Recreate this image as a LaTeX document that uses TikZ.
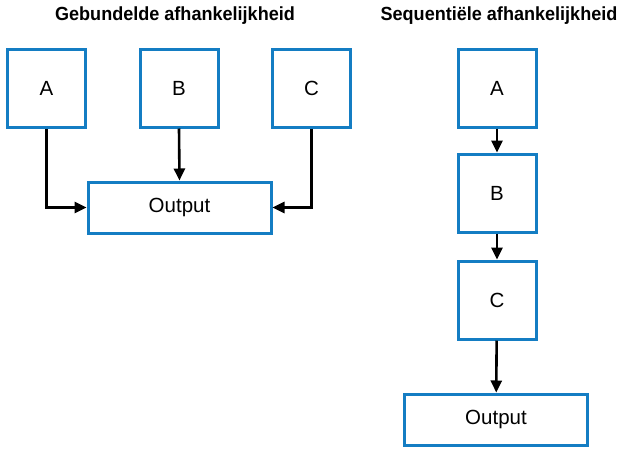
\documentclass[tikz,border=0pt]{standalone}
\usepackage{fontspec}
\setmainfont{Liberation Sans}
\newfontfamily\titlefont{Liberation Sans}[FakeStretch=0.95]
\usetikzlibrary{arrows.meta}
\definecolor{boxblue}{RGB}{20,125,195}
\begin{document}
\begin{tikzpicture}[x=1pt,y=-1pt,
  box/.style={draw=boxblue,line width=3pt,fill=white,inner sep=0pt,font=\fontsize{20.5}{22}\selectfont},
  sq/.style={box,minimum width=78pt,minimum height=78pt},
  outbox/.style={box,minimum width=183pt,minimum height=51pt},
  conn/.style={line width=2.6pt,-{Triangle[length=12pt,width=11pt]}},
  ttl/.style={font=\titlefont\bfseries\fontsize{19}{21}\selectfont}]
\useasboundingbox (0,0) rectangle (621,448);
% left
\node[ttl] (t1) at (175,16) {Gebundelde afhankelijkheid};
\node[sq] (a1) at (46.5,88) {A};
\node[sq] (b1) at (179,88) {B};
\node[sq] (c1) at (311.5,88) {C};
\node[outbox] (o1) at (179.5,207.5) {Output};
\draw[conn] (a1.south) |- (o1.west);
\draw[conn] (b1.south) -- (o1.north);
\draw[conn] (c1.south) |- (o1.east);
% right
\node[ttl] (t2) at (499,16) {Sequentiële afhankelijkheid};
\node[sq] (a2) at (497,88) {A};
\node[sq] (b2) at (497,193) {B};
\node[sq] (c2) at (497,300) {C};
\node[outbox] (o2) at (496,419.5) {Output};
\draw[conn] (a2) -- (b2);
\draw[conn] (b2) -- (c2);
\draw[conn] (c2) -- (o2);
\end{tikzpicture}
\end{document}
